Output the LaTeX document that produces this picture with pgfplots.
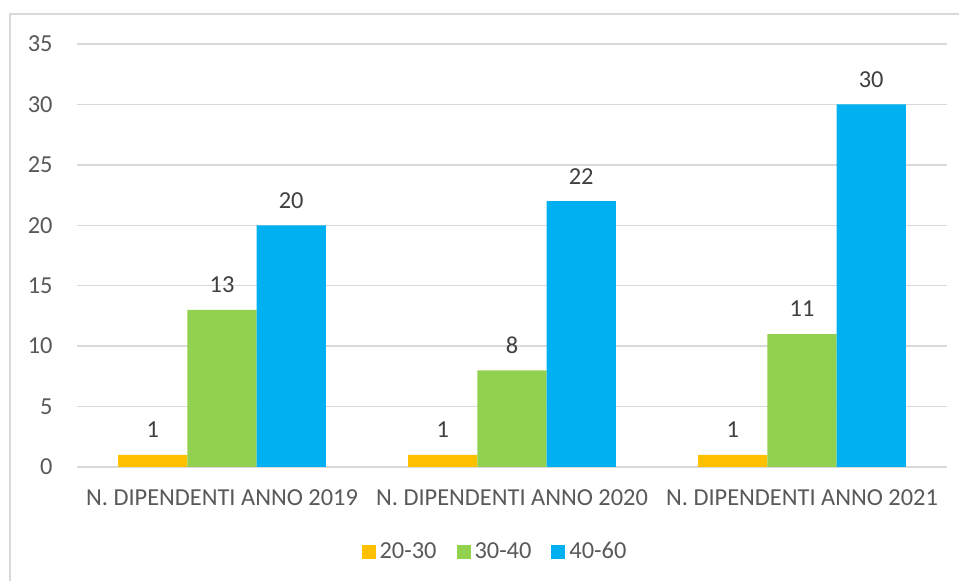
\documentclass[border=0pt]{standalone}
\usepackage{pgfplots}
\pgfplotsset{compat=1.18}
\usepackage{fontspec}
\setmainfont{Carlito}
\definecolor{cYel}{HTML}{FFC000}
\definecolor{cGrn}{HTML}{92D050}
\definecolor{cBlu}{HTML}{00B0F0}
\definecolor{cGrid}{HTML}{D9D9D9}
\definecolor{cTick}{HTML}{595959}
\definecolor{cLab}{HTML}{404040}
\begin{document}
\begin{tikzpicture}
\clip (-38.5pt,-57pt) rectangle (441pt,233.5pt);
\fill[white] (-38.5pt,-57pt) rectangle (441pt,233.5pt);
\draw[cGrid, line width=0.75pt] (-33.5pt,-80pt) rectangle (470pt,226.5pt);
\begin{axis}[
  at={(0pt,0pt)}, anchor=south west,
  scale only axis, width=435pt, height=211.5pt,
  ybar=0pt, bar width=0.2386,
  xmin=-0.5, xmax=2.5, ymin=0, ymax=35,
  xtick=data,
  xticklabels={N. DIPENDENTI ANNO 2019,N. DIPENDENTI ANNO 2020,N. DIPENDENTI ANNO 2021},
  ytick={0,5,...,35},
  major tick length=0pt,
  axis line style={draw=none},
  ymajorgrids, grid style={cGrid, line width=0.75pt},
  /pgf/number format/assume math mode=true,
  tick label style={font=\fontsize{12.2}{14}\selectfont, text=cTick},
  xticklabel style={anchor=center, inner sep=0pt, yshift=-15.5pt},
  yticklabel style={anchor=east, inner sep=0pt, xshift=-12pt},
  nodes near coords,
  every node near coord/.append style={font=\fontsize{12.2}{14}\selectfont, text=cLab, anchor=center, yshift=12.5pt},
  legend style={draw=none, fill=none, at={(0.4816,-0.201)}, anchor=center,
    legend columns=3, font=\fontsize{12.2}{14}\selectfont, text=cTick,
    /tikz/every even column/.append style={column sep=8pt},
    inner sep=0pt, cells={anchor=west}},
  legend image code/.code={\fill[#1] (0pt,-3.5pt) rectangle (7pt,3.5pt);},
]
\addplot[fill=cYel, draw=none] coordinates {(0,1) (1,1) (2,1)};
\addplot[fill=cGrn, draw=none] coordinates {(0,13) (1,8) (2,11)};
\addplot[fill=cBlu, draw=none] coordinates {(0,20) (1,22) (2,30)};
\legend{20-30,30-40,40-60}
\end{axis}
\end{tikzpicture}
\end{document}
